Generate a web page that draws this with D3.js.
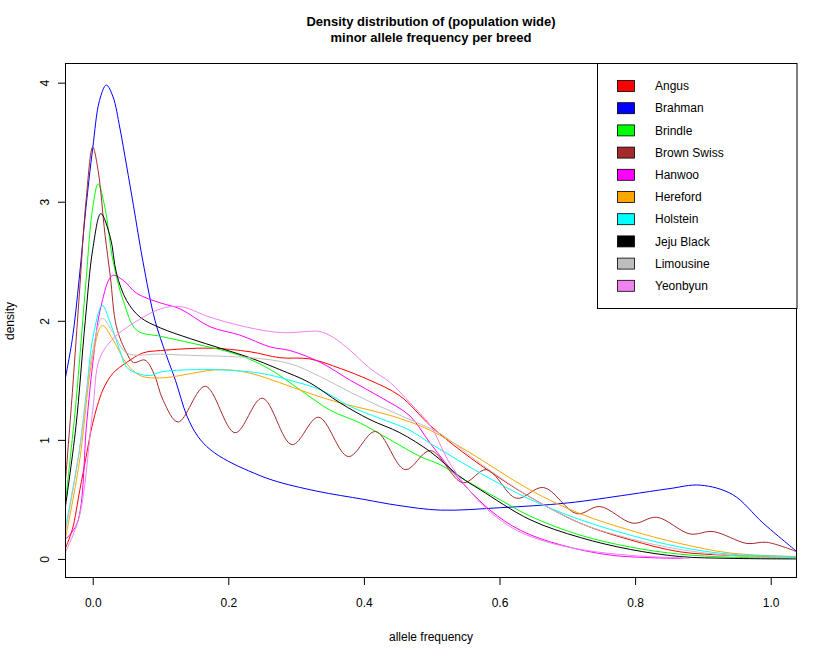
<!DOCTYPE html>
<html><head><meta charset="utf-8">
<script src="https://cdn.jsdelivr.net/npm/d3@7"></script>
<style>body{margin:0;background:#fff}svg{display:block;font-family:"Liberation Sans",Arial,sans-serif}</style>
</head><body>
<script>
const breeds = ["Angus","Brahman","Brindle","Brown Swiss","Hanwoo","Hereford","Holstein","Jeju Black","Limousine","Yeonbyun"];
const colors = ["#FF0000","#0000FF","#00FF00","#A52A2A","#FF00FF","#FFA500","#00FFFF","#000000","#BEBEBE","#EE82EE"];
const xTicks = [0,0.2,0.4,0.6,0.8,1.0];
const yTicks = [0,1,2,3,4];

const angusX = [-0.041,-0.03,-0.019,-0.01,0.0,0.015,0.03,0.05,0.074,0.1,0.173,0.232,0.276,0.32,0.365,0.409,0.453,0.498,0.545,0.6,0.645,0.719,0.793,0.866,0.94,1.039];
const angusY = [0.08,0.25,0.58,0.85,1.14,1.42,1.56,1.65,1.73,1.75,1.77,1.74,1.69,1.68,1.6,1.5,1.37,1.12,0.9,0.68,0.52,0.3,0.16,0.06,0.03,0.01];

const brahmanX = [-0.041,-0.03,-0.02,-0.01,0.0,0.01,0.02,0.03,0.04,0.05,0.06,0.074,0.092,0.108,0.122,0.139,0.155,0.173,0.2,0.23,0.266,0.33,0.4,0.45,0.513,0.6,0.7,0.79,0.85,0.896,0.944,0.989,1.039];
const brahmanY = [1.5,1.85,2.35,2.95,3.45,3.85,3.98,3.88,3.62,3.3,2.97,2.5,2.0,1.72,1.5,1.2,1.03,0.92,0.82,0.74,0.66,0.57,0.5,0.45,0.41,0.43,0.47,0.54,0.59,0.62,0.54,0.30,0.06];

const brindleX = [-0.041,-0.025,-0.011,0.0,0.008,0.018,0.03,0.045,0.065,0.1,0.148,0.217,0.262,0.306,0.35,0.395,0.439,0.483,0.513,0.55,0.6,0.645,0.719,0.793,0.866,0.94,1.039];
const brindleY = [0.44,1.3,2.26,2.95,3.15,2.95,2.5,2.17,1.92,1.87,1.81,1.71,1.59,1.42,1.25,1.14,1.0,0.86,0.79,0.66,0.5,0.36,0.2,0.1,0.04,0.015,0.005];

const brownSwissX = [-0.041,-0.03,-0.02,-0.01,0.0,0.008,0.018,0.026,0.035,0.05,0.06,0.077,0.09,0.104,0.126,0.166,0.21,0.25,0.294,0.333,0.377,0.417,0.461,0.498,0.546,0.581,0.625,0.665,0.714,0.748,0.797,0.832,0.881,0.915,0.965,0.994,1.039];
const brownSwissY = [0.6,1.4,2.2,3.0,3.46,3.26,2.73,2.37,1.95,1.73,1.65,1.67,1.56,1.33,1.15,1.45,1.06,1.35,0.96,1.19,0.86,1.07,0.75,0.91,0.64,0.75,0.51,0.6,0.38,0.44,0.3,0.35,0.21,0.23,0.13,0.14,0.06];

const hanwooX = [-0.041,-0.023,-0.009,0.0,0.011,0.029,0.045,0.065,0.1,0.129,0.173,0.217,0.262,0.291,0.336,0.38,0.424,0.468,0.498,0.542,0.586,0.631,0.689,0.767,0.87];
const hanwooY = [0.16,0.3,1.14,1.64,2.09,2.38,2.34,2.23,2.15,2.1,1.95,1.88,1.78,1.75,1.65,1.5,1.36,1.2,0.97,0.66,0.41,0.24,0.12,0.03,0.005];

const herefordX = [-0.041,-0.02,0.0,0.014,0.03,0.05,0.07,0.1,0.188,0.232,0.276,0.32,0.365,0.409,0.453,0.498,0.557,0.645,0.719,0.793,0.866,0.94,1.039];
const herefordY = [0.15,0.8,1.7,1.96,1.84,1.64,1.54,1.52,1.59,1.56,1.48,1.39,1.31,1.25,1.18,1.08,0.89,0.58,0.38,0.24,0.13,0.05,0.02];

const holsteinX = [-0.041,-0.02,-0.009,0.0,0.014,0.026,0.04,0.05,0.065,0.085,0.1,0.173,0.247,0.291,0.336,0.38,0.424,0.468,0.498,0.572,0.645,0.719,0.793,0.866,0.94,1.039];
const holsteinY = [0.24,0.9,1.42,1.85,2.13,1.98,1.75,1.61,1.56,1.54,1.57,1.59,1.56,1.5,1.42,1.28,1.18,1.08,0.97,0.72,0.5,0.33,0.2,0.1,0.04,0.02];

const jejuBlackX = [-0.041,-0.025,-0.011,0.0,0.012,0.026,0.035,0.05,0.07,0.1,0.144,0.188,0.232,0.276,0.32,0.365,0.409,0.453,0.498,0.542,0.572,0.645,0.719,0.793,0.866,0.94,1.039];
const jejuBlackY = [0.41,1.1,2.0,2.6,2.9,2.7,2.4,2.17,2.03,1.94,1.85,1.77,1.69,1.59,1.48,1.31,1.17,1.06,0.9,0.69,0.58,0.33,0.18,0.08,0.02,0.005,0.0];

const limousineX = [-0.041,-0.02,0.0,0.014,0.03,0.05,0.1,0.144,0.232,0.291,0.336,0.38,0.424,0.468,0.513,0.572,0.645,0.719,0.793,0.866,0.94,1.039];
const limousineY = [0.2,0.9,1.75,2.02,1.9,1.73,1.72,1.71,1.69,1.64,1.53,1.4,1.28,1.17,1.05,0.8,0.52,0.3,0.17,0.08,0.03,0.01];

const yeonbyunX = [-0.041,-0.02,0.0,0.01,0.03,0.06,0.1,0.129,0.173,0.217,0.262,0.29,0.315,0.335,0.355,0.38,0.409,0.439,0.468,0.498,0.527,0.572,0.616,0.66,0.719,0.793,0.88];
const yeonbyunY = [0.05,0.35,1.25,1.68,1.85,1.98,2.1,2.12,2.03,1.96,1.91,1.9,1.91,1.91,1.86,1.75,1.6,1.48,1.31,1.12,0.8,0.47,0.27,0.16,0.08,0.03,0.005];

const seriesX = [angusX,brahmanX,brindleX,brownSwissX,hanwooX,herefordX,holsteinX,jejuBlackX,limousineX,yeonbyunX];
const seriesY = [angusY,brahmanY,brindleY,brownSwissY,hanwooY,herefordY,holsteinY,jejuBlackY,limousineY,yeonbyunY];

const W = 825, H = 657;
const L = 65, R = 797, T = 63, B = 578;
const x = d3.scaleLinear().domain([-0.0409, 1.0388]).range([L, R]);
const y = d3.scaleLinear().domain([-0.16, 4.165]).range([B, T]);

const svg = d3.select("body").append("svg").attr("width", W).attr("height", H);

svg.append("defs").append("clipPath").attr("id","clip")
  .append("rect").attr("x",L).attr("y",T).attr("width",R-L).attr("height",B-T);

const line = d3.line().x(d=>x(d[0])).y(d=>y(d[1])).curve(d3.curveCatmullRom.alpha(0.5));
const g = svg.append("g").attr("clip-path","url(#clip)");
const order = [1,0,2,3,4,5,6,7,8,9];
order.forEach(i=>{
  const pts = seriesX[i].map((v,j)=>[v, seriesY[i][j]]);
  g.append("path").attr("d", line(pts)).attr("fill","none")
   .attr("stroke", colors[i]).attr("stroke-width", 1);
});

// box
svg.append("rect").attr("x",L+0.5).attr("y",T+0.5).attr("width",R-L-1).attr("height",B-T-1)
  .attr("fill","none").attr("stroke","#000").attr("stroke-width",1);

// x axis
const xa = svg.append("g").attr("transform",`translate(0,${B})`)
  .call(d3.axisBottom(x).tickValues(xTicks).tickFormat(d3.format(".1f")).tickSize(7).tickSizeOuter(0));
xa.select(".domain").remove();
xa.selectAll("text").attr("font-size",12).attr("font-family","Liberation Sans, Arial, sans-serif").attr("dy","1.55em").attr("fill","#000");
xa.selectAll("line").attr("stroke","#000");

// y axis
const ya = svg.append("g").attr("transform",`translate(${L},0)`)
  .call(d3.axisLeft(y).tickValues(yTicks).tickFormat(d3.format("d")).tickSize(7).tickSizeOuter(0));
ya.select(".domain").remove();
ya.selectAll("line").attr("stroke","#000");
ya.selectAll("text").remove();
ya.selectAll(".tick").append("text")
  .attr("transform","translate(-20,0) rotate(-90)")
  .attr("text-anchor","middle").attr("dy","0.35em")
  .attr("font-size",12).attr("fill","#000").text(d=>d3.format("d")(d));

// titles
svg.append("text").attr("x",(L+R)/2).attr("y",25.5).attr("text-anchor","middle")
  .attr("font-size",13).attr("font-weight","bold").text("Density distribution of (population wide)");
svg.append("text").attr("x",(L+R)/2).attr("y",41.5).attr("text-anchor","middle")
  .attr("font-size",13).attr("font-weight","bold").text("minor allele frequency per breed");
svg.append("text").attr("x",(L+R)/2).attr("y",641).attr("text-anchor","middle")
  .attr("font-size",12).text("allele frequency");
svg.append("text").attr("transform",`translate(14,321) rotate(-90)`).attr("text-anchor","middle")
  .attr("font-size",12).text("density");

// legend
const lg = svg.append("g");
lg.append("rect").attr("x",597.5).attr("y",T+0.5).attr("width",R-597.5).attr("height",308-T)
  .attr("fill","#fff").attr("stroke","#000").attr("stroke-width",1);
breeds.forEach((b,i)=>{
  const cy = 86 + i*22.2;
  lg.append("rect").attr("x",617.5).attr("y",cy-5.5).attr("width",17).attr("height",11)
    .attr("fill",colors[i]).attr("stroke","#000").attr("stroke-width",0.8);
  lg.append("text").attr("x",655).attr("y",cy).attr("dy","0.35em").attr("font-size",12).text(b);
});
</script>
</body></html>
